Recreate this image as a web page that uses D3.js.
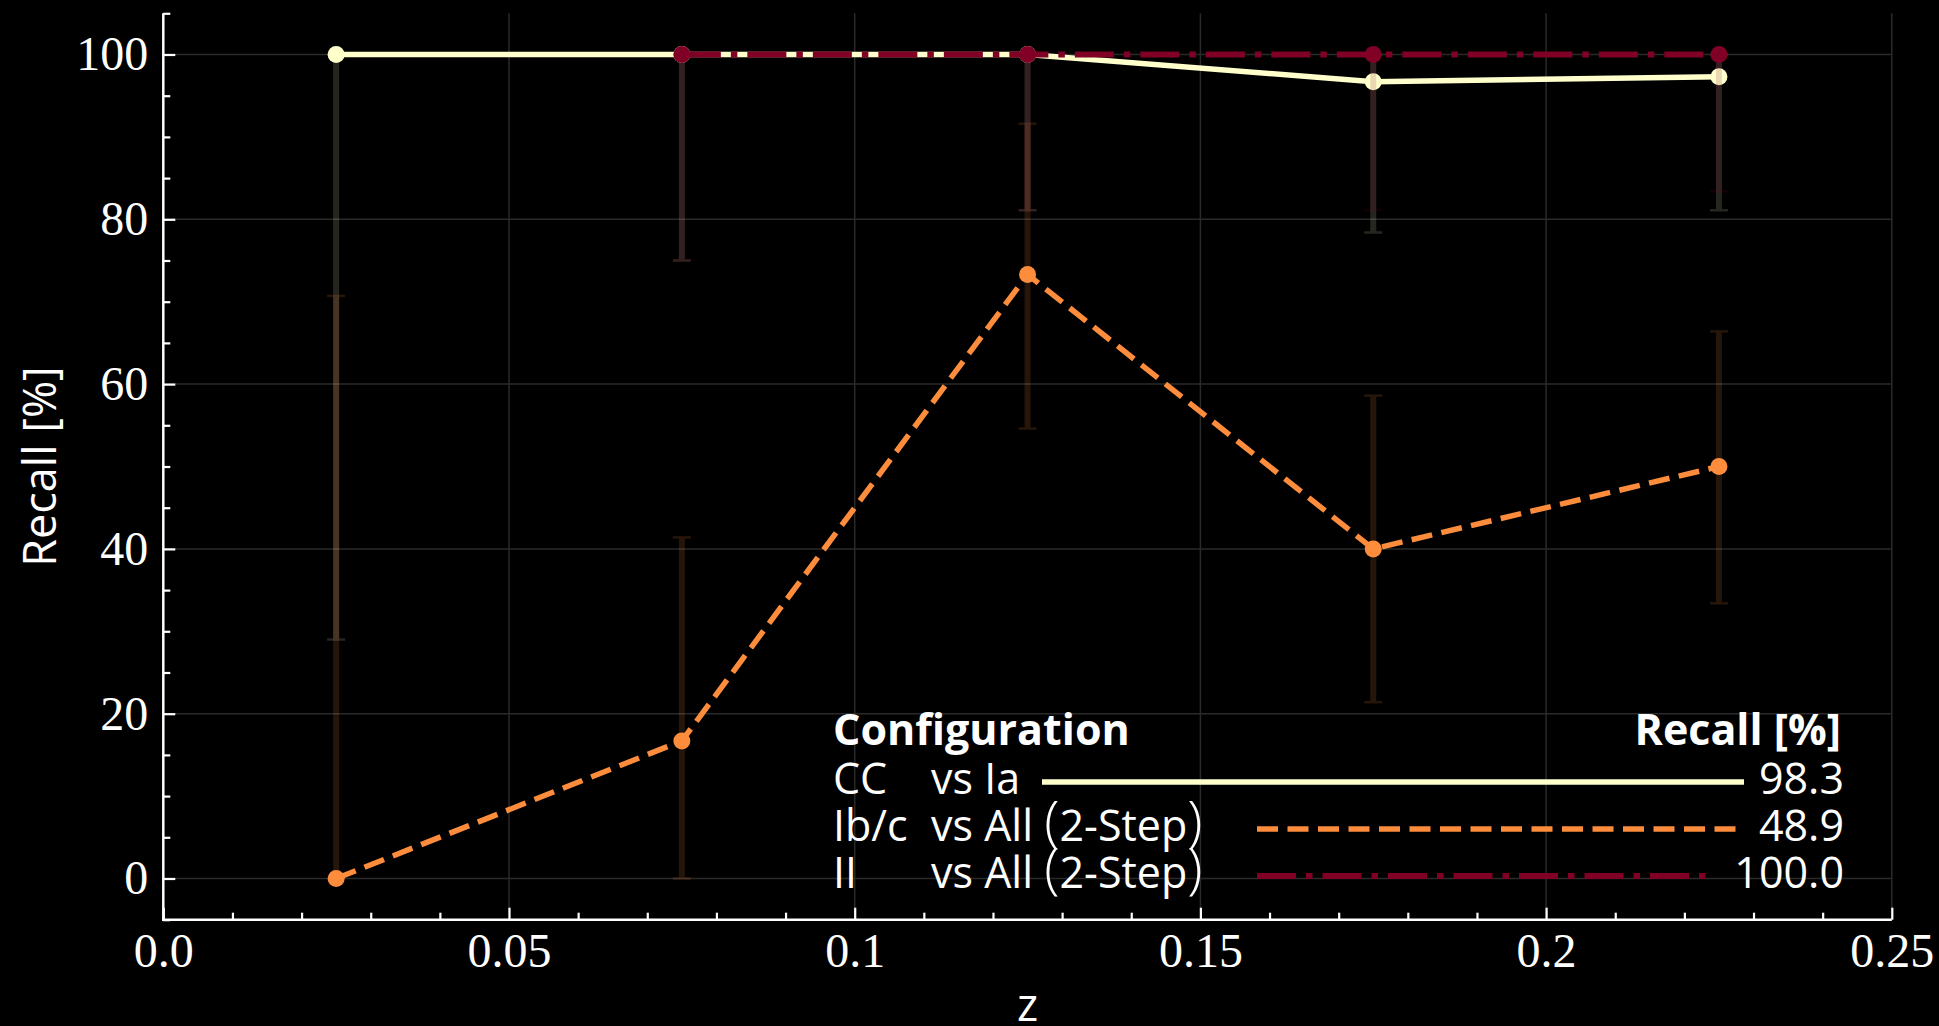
<!DOCTYPE html>
<html>
<head>
<meta charset="utf-8">
<script src="https://cdn.jsdelivr.net/npm/d3@7"></script>
<style>
  html, body { margin: 0; padding: 0; background: #000; }
  svg { display: block; }
</style>
</head>
<body>
<svg id="chart" width="1939" height="1026"></svg>
<script>
// Redshift bins (bin centres) and per-bin recall with confidence intervals
const zBins = [0.025, 0.075, 0.125, 0.175, 0.225];

const ccRecall = [100, 100, 100, 96.7, 97.3];
const ccLower  = [29.0, 75.0, 81.1, 78.4, 81.1];
const ccUpper  = [100, 100, 100, 100, 100];

const ibcRecall = [0, 16.7, 73.3, 40.0, 50.0];
const ibcLower  = [0, 0, 54.6, 21.4, 33.4];
const ibcUpper  = [70.7, 41.4, 91.6, 58.6, 66.4];

const iiRecall = [null, 100, 100, 100, 100];
const iiLower  = [null, 75.0, 81.1, 81.1, 83.4];
const iiUpper  = [null, 100, 100, 100, 100];

// Legend table: classifier configuration and overall recall
const configNames  = ["CC", "Ib/c", "II"];
const configVs     = ["vs Ia", "vs All (2-Step)", "vs All (2-Step)"];
const overallRecall = ["98.3", "48.9", "100.0"];

const xTicks = [0, 0.05, 0.1, 0.15, 0.2, 0.25];
const xTickLabels = ["0.0", "0.05", "0.1", "0.15", "0.2", "0.25"];
const yTicks = [0, 20, 40, 60, 80, 100];

const series = [
  { name: "cc",  y: ccRecall,  lo: ccLower,  hi: ccUpper,  color: "#ffffcc", width: 5.5, dash: null },
  { name: "ibc", y: ibcRecall, lo: ibcLower, hi: ibcUpper, color: "#fd8d3c", width: 5.5, dash: "21 9.5" },
  { name: "ii",  y: iiRecall,  lo: iiLower,  hi: iiUpper,  color: "#800026", width: 6,   dash: "39 10 6.5 10" }
];

const svg = d3.select("#chart");
const x = d3.scaleLinear().domain([0, 0.25]).range([163.3, 1891.8]);
const y = d3.scaleLinear().domain([-5, 105]).range([919.7, 13.3]);

const serif = "'Liberation Serif', 'DejaVu Serif', serif";
const sans = "'Open Sans', Lato, sans-serif";

// grid
const grid = svg.append("g");
grid.selectAll("line.gx").data(xTicks).join("line")
  .attr("x1", d => x(d)).attr("x2", d => x(d))
  .attr("y1", y(105)).attr("y2", y(-5))
  .attr("stroke", "#2a2a2a").attr("stroke-width", 1.5);
grid.selectAll("line.gy").data(yTicks).join("line")
  .attr("x1", x(0)).attr("x2", x(0.25))
  .attr("y1", d => y(d)).attr("y2", d => y(d))
  .attr("stroke", "#2a2a2a").attr("stroke-width", 1.5);

// axes: ticks point inward
const xAxis = svg.append("g").attr("transform", `translate(0,${y(-5)})`)
  .call(d3.axisBottom(x).tickValues(xTicks).tickFormat((d, i) => xTickLabels[i])
    .tickSize(-12).tickPadding(13));
const xMinor = svg.append("g").attr("transform", `translate(0,${y(-5)})`)
  .call(d3.axisBottom(x).tickValues(d3.range(0, 0.2501, 0.01).filter(v => Math.abs(v * 20 - Math.round(v * 20)) > 1e-6))
    .tickFormat("").tickSize(-7));
const yAxis = svg.append("g").attr("transform", `translate(${x(0)},0)`)
  .call(d3.axisLeft(y).tickValues(yTicks).tickSize(-12).tickPadding(15));
const yMinor = svg.append("g").attr("transform", `translate(${x(0)},0)`)
  .call(d3.axisLeft(y).tickValues(d3.range(-5, 106, 5).filter(v => v % 20 !== 0)).tickFormat("").tickSize(-7));

[xAxis, xMinor, yAxis, yMinor].forEach(g => {
  g.select(".domain").remove();
  g.selectAll(".tick line").attr("stroke", "#fff").attr("stroke-width", 2.2);
  g.selectAll(".tick text").attr("fill", "#fff").attr("font-family", serif).attr("font-size", 48);
});

// spines
svg.append("line").attr("x1", x(0)).attr("x2", x(0)).attr("y1", y(105)).attr("y2", y(-5) + 1.2)
  .attr("stroke", "#fff").attr("stroke-width", 2.5);
svg.append("line").attr("x1", x(0) - 1.2).attr("x2", x(0.25)).attr("y1", y(-5)).attr("y2", y(-5))
  .attr("stroke", "#fff").attr("stroke-width", 2.5);

// axis titles
svg.append("text").attr("transform", `translate(${56},${(y(105) + y(-5)) / 2}) rotate(-90)`)
  .attr("text-anchor", "middle").attr("fill", "#fff")
  .attr("font-family", sans).attr("font-size", 45).text("Recall [%]");
svg.append("text").attr("x", (x(0) + x(0.25)) / 2).attr("y", 1021)
  .attr("text-anchor", "middle").attr("fill", "#fff")
  .attr("font-family", sans).attr("font-size", 45).text("z");

// series: line, markers, then translucent error bars
const plot = svg.append("g");
series.forEach(s => {
  const pts = zBins.map((z, i) => ({ z, v: s.y[i], lo: s.lo[i], hi: s.hi[i] })).filter(p => p.v !== null);
  const g = plot.append("g");
  g.append("path").datum(pts)
    .attr("d", d3.line().x(p => x(p.z)).y(p => y(p.v)))
    .attr("fill", "none").attr("stroke", s.color).attr("stroke-width", s.width)
    .attr("stroke-dasharray", s.dash);
  g.selectAll("circle").data(pts).join("circle")
    .attr("cx", p => x(p.z)).attr("cy", p => y(p.v)).attr("r", 8.5)
    .attr("fill", s.color);
  const eb = g.append("g").attr("opacity", 0.15);
  eb.selectAll("line.bar").data(pts).join("line")
    .attr("x1", p => x(p.z)).attr("x2", p => x(p.z))
    .attr("y1", p => y(p.lo)).attr("y2", p => y(p.hi))
    .attr("stroke", s.color).attr("stroke-width", 6);
  eb.selectAll("line.caplo").data(pts).join("line")
    .attr("x1", p => x(p.z) - 9).attr("x2", p => x(p.z) + 9)
    .attr("y1", p => y(p.lo)).attr("y2", p => y(p.lo))
    .attr("stroke", s.color).attr("stroke-width", 2.5);
  eb.selectAll("line.caphi").data(pts).join("line")
    .attr("x1", p => x(p.z) - 9).attr("x2", p => x(p.z) + 9)
    .attr("y1", p => y(p.hi)).attr("y2", p => y(p.hi))
    .attr("stroke", s.color).attr("stroke-width", 2.5);
});

// legend table
const leg = svg.append("g").attr("font-family", sans).attr("fill", "#fff").attr("font-size", 43);
leg.append("text").attr("x", 833).attr("y", 745).attr("font-weight", 700).text("Configuration");
leg.append("text").attr("x", 1841).attr("y", 745).attr("font-weight", 700)
  .attr("text-anchor", "end").text("Recall [%]");
const rowY = [794, 841, 888];
const lineStart = [1042, 1257, 1257];
const lineEnd = [1744, 1741, 1708];
series.forEach((s, i) => {
  leg.append("text").attr("x", 833).attr("y", rowY[i]).text(configNames[i]);
  // tall bracket glyphs around the step annotation
  const t = leg.append("text").attr("x", 931).attr("y", rowY[i]);
  configVs[i].split(/([()])/).filter(p => p.length).forEach(part => {
    const sp = t.append("tspan").text(part);
    if (part === "(" || part === ")") sp.attr("font-size", 56).attr("font-weight", 300);
  });
  leg.append("text").attr("x", 1844).attr("y", rowY[i]).attr("text-anchor", "end").text(overallRecall[i]);
  leg.append("line").attr("x1", lineStart[i]).attr("x2", lineEnd[i])
    .attr("y1", rowY[i] - 12).attr("y2", rowY[i] - 12)
    .attr("stroke", s.color).attr("stroke-width", s.width)
    .attr("stroke-dasharray", s.dash);
});
</script>
</body>
</html>
